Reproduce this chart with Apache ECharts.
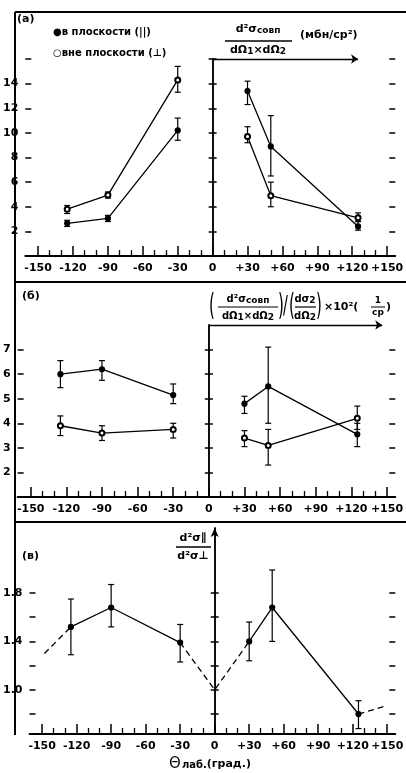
<!DOCTYPE html>
<html>
<head>
<meta charset="utf-8">
<script src="https://cdn.jsdelivr.net/npm/echarts@6/dist/echarts.min.js"></script>
<style>
html, body { margin: 0; padding: 0; background: #fff; }
#main { width: 406px; height: 773px; }
</style>
</head>
<body>
<div id="main"></div>
<script>
// angle axis (degrees)
var xMajor = [-150, -120, -90, -60, -30, 0, 30, 60, 90, 120, 150];
var xMinor = [-140, -130, -110, -100, -80, -70, -50, -40, -20, -10, 10, 20, 40, 50, 70, 80, 100, 110, 130, 140];
var xLabels = ['-150', '-120', '-90', '-60', '-30', '0', '+30', '+60', '+90', '+120', '+150'];
var angLeft = [-125, -90, -30];
var angRight = [30, 50, 125];

// panel (а)
var aTicks = [2, 4, 6, 8, 10, 12, 14, 16];
var aLabels = [2, 4, 6, 8, 10, 12, 14];
var aUpL = [3.8, 4.95, 14.3], aUpLLo = [3.45, 4.7, 13.3], aUpLHi = [4.1, 5.2, 15.4];
var aLowL = [2.65, 3.05, 10.2], aLowLLo = [2.4, 2.8, 9.4], aLowLHi = [2.9, 3.3, 11.2];
var aUpR = [13.4, 8.9, 2.4], aUpRLo = [12.3, 6.5, 2.1], aUpRHi = [14.2, 11.4, 2.8];
var aLowR = [9.7, 4.9, 3.1], aLowRLo = [9.2, 4.0, 2.8], aLowRHi = [10.5, 6.0, 3.5];

// panel (б)
var bTicks = [2, 3, 4, 5, 6, 7];
var bLabels = [2, 3, 4, 5, 6, 7];
var bUpL = [6.0, 6.2, 5.15], bUpLLo = [5.45, 5.75, 4.8], bUpLHi = [6.55, 6.55, 5.6];
var bLowL = [3.9, 3.6, 3.75], bLowLLo = [3.5, 3.3, 3.4], bLowLHi = [4.3, 3.9, 4.0];
var bUpR = [4.8, 5.5, 3.55], bUpRLo = [4.4, 4.0, 3.05], bUpRHi = [5.1, 7.1, 4.0];
var bLowR = [3.4, 3.1, 4.2], bLowRLo = [3.05, 2.3, 3.75], bLowRHi = [3.7, 3.75, 4.7];

// panel (в)
var vTicks = [0.8, 1.0, 1.2, 1.4, 1.6, 1.8];
var vLabels = [1.0, 1.4, 1.8];
var vL = [1.52, 1.68, 1.39], vLLo = [1.29, 1.52, 1.23], vLHi = [1.75, 1.87, 1.54];
var vR = [1.4, 1.68, 0.80], vRLo = [1.24, 1.40, 0.68], vRHi = [1.56, 1.99, 0.91];
var vEdgeX = [-148, 0, 150];
var vEdgeY = [1.30, 1.0, 0.87];

var FONT = 'DejaVu Sans';
var INK = '#000';

function pts(xs, ys) {
    return xs.map(function (x, i) { return [x, ys[i]]; });
}
function errPts(xs, lo, hi) {
    return xs.map(function (x, i) { return [x, lo[i], hi[i]]; });
}

var grids = [
    {left: 15, right: 0, top: 59, height: 197},
    {left: 15, right: 0, top: 325, height: 172},
    {left: 15, right: 0, top: 528, height: 206}
];
var yRange = [[0, 16], [1.0, 8], [0.635, 2.337]];
var yTicks = [aTicks, bTicks, vTicks];
var yLabs = [aLabels, bLabels, vLabels];

var xAxes = [], yAxes = [];
for (var g = 0; g < 3; g++) {
    xAxes.push({
        gridIndex: g, type: 'value', min: -161, max: 157, position: 'bottom',
        splitLine: {show: false},
        axisLine: {show: true, onZero: false, lineStyle: {color: INK, width: 2}},
        axisTick: {show: true, inside: true, length: 10, customValues: xMajor, lineStyle: {color: INK, width: 1.5}},
        axisLabel: {
            show: true, customValues: xMajor, margin: 7, color: INK,
            fontFamily: FONT, fontWeight: 'bold', fontSize: 11,
            formatter: function (v) {
                for (var k = 0; k < xMajor.length; k++) {
                    if (Math.abs(xMajor[k] - v) < 1e-6) return xLabels[k];
                }
                return '';
            }
        }
    });
    xAxes.push({
        gridIndex: g, type: 'value', min: -161, max: 157, position: 'bottom',
        splitLine: {show: false},
        axisLine: {show: false, onZero: false},
        axisTick: {show: true, inside: true, length: 6, customValues: xMinor, lineStyle: {color: INK, width: 1.3}},
        axisLabel: {show: false}
    });
    var isV = g === 2;
    yAxes.push({
        gridIndex: g, type: 'value', min: yRange[g][0], max: yRange[g][1], position: 'left',
        splitLine: {show: false},
        axisLine: {
            show: true, onZero: true, onZeroAxisIndex: 2 * g,
            symbol: isV ? ['none', 'arrow'] : 'none', symbolSize: [6, 9],
            lineStyle: {color: INK, width: 1.5}
        },
        axisTick: {show: true, length: 4, customValues: yTicks[g], lineStyle: {color: INK, width: 1.5}},
        axisLabel: {
            show: true, customValues: yLabs[g], margin: 7, color: INK,
            fontFamily: FONT, fontWeight: 'bold', fontSize: 11,
            formatter: isV ? function (v) { return v.toFixed(1); } : function (v) { return String(v); }
        }
    });
    yAxes.push({
        gridIndex: g, type: 'value', min: yRange[g][0], max: yRange[g][1], position: 'right',
        splitLine: {show: false},
        axisLine: {show: true, onZero: true, onZeroAxisIndex: 2 * g + 1, lineStyle: {color: INK, width: 1.5}},
        axisTick: {show: true, length: 4, customValues: yTicks[g], lineStyle: {color: INK, width: 1.5}},
        axisLabel: {show: false}
    });
    yAxes.push({
        gridIndex: g, type: 'value', min: yRange[g][0], max: yRange[g][1], position: 'left',
        splitLine: {show: false},
        axisLine: {show: false, onZero: false},
        axisTick: {show: true, inside: true, length: 6, customValues: yTicks[g], lineStyle: {color: INK, width: 1.5}},
        axisLabel: {show: false}
    });
    yAxes.push({
        gridIndex: g, type: 'value', min: yRange[g][0], max: yRange[g][1], position: 'right',
        splitLine: {show: false},
        axisLine: {show: false, onZero: false},
        axisTick: {show: true, inside: true, length: 6, customValues: yTicks[g], lineStyle: {color: INK, width: 1.5}},
        axisLabel: {show: false}
    });
}

function lineSeries(g, data, sym, dashed) {
    return {
        type: 'line', xAxisIndex: 2 * g, yAxisIndex: 4 * g, data: data,
        symbol: sym || 'none', symbolSize: 5, showSymbol: !!sym,
        lineStyle: {color: INK, width: 1.3, type: dashed ? [6, 4] : 'solid'},
        itemStyle: {color: INK, borderColor: INK, borderWidth: 1.2},
        z: 4, silent: true, animation: false
    };
}

function errSeries(g, data) {
    return {
        type: 'custom', xAxisIndex: 2 * g, yAxisIndex: 4 * g, data: data, z: 3, silent: true,
        animation: false,
        renderItem: function (params, api) {
            var p1 = api.coord([api.value(0), api.value(1)]);
            var p2 = api.coord([api.value(0), api.value(2)]);
            var w = 3;
            var st = {stroke: INK, lineWidth: 1.2};
            return {
                type: 'group', children: [
                    {type: 'line', shape: {x1: p1[0], y1: p1[1], x2: p2[0], y2: p2[1]}, style: st},
                    {type: 'line', shape: {x1: p1[0] - w, y1: p1[1], x2: p1[0] + w, y2: p1[1]}, style: st},
                    {type: 'line', shape: {x1: p2[0] - w, y1: p2[1], x2: p2[0] + w, y2: p2[1]}, style: st}
                ]
            };
        }
    };
}

function arrowLine(g, y, xEnd) {
    return {
        type: 'line', xAxisIndex: 2 * g, yAxisIndex: 4 * g, data: [], silent: true, animation: false,
        markLine: {
            silent: true, animation: false, symbol: ['none', 'arrow'], symbolSize: 7,
            label: {show: false},
            lineStyle: {color: INK, type: 'solid', width: 1.3},
            data: [[{coord: [0, y]}, {coord: [xEnd, y]}]]
        }
    };
}

var series = [
    // (а)
    lineSeries(0, pts(angLeft, aUpL), 'emptyCircle'),
    lineSeries(0, pts(angLeft, aLowL), 'circle'),
    lineSeries(0, pts(angRight, aUpR), 'circle'),
    lineSeries(0, pts(angRight, aLowR), 'emptyCircle'),
    errSeries(0, errPts(angLeft, aUpLLo, aUpLHi)),
    errSeries(0, errPts(angLeft, aLowLLo, aLowLHi)),
    errSeries(0, errPts(angRight, aUpRLo, aUpRHi)),
    errSeries(0, errPts(angRight, aLowRLo, aLowRHi)),
    arrowLine(0, 16, 125),
    // (б)
    lineSeries(1, pts(angLeft, bUpL), 'circle'),
    lineSeries(1, pts(angLeft, bLowL), 'emptyCircle'),
    lineSeries(1, pts(angRight, bUpR), 'circle'),
    lineSeries(1, pts(angRight, bLowR), 'emptyCircle'),
    errSeries(1, errPts(angLeft, bUpLLo, bUpLHi)),
    errSeries(1, errPts(angLeft, bLowLLo, bLowLHi)),
    errSeries(1, errPts(angRight, bUpRLo, bUpRHi)),
    errSeries(1, errPts(angRight, bLowRLo, bLowRHi)),
    arrowLine(1, 8, 146),
    // (в)
    lineSeries(2, pts(angLeft, vL), 'circle'),
    lineSeries(2, pts(angRight, vR), 'circle'),
    lineSeries(2, [[vEdgeX[0], vEdgeY[0]], [angLeft[0], vL[0]]], null, true),
    lineSeries(2, [[angLeft[2], vL[2]], [vEdgeX[1], vEdgeY[1]], [angRight[0], vR[0]]], null, true),
    lineSeries(2, [[angRight[2], vR[2]], [vEdgeX[2], vEdgeY[2]]], null, true),
    errSeries(2, errPts(angLeft, vLLo, vLHi)),
    errSeries(2, errPts(angRight, vRLo, vRHi))
];

function txt(x, y, text, font, align, rich, sx) {
    var st = {text: text, font: font, fill: INK, align: align || 'left', verticalAlign: 'middle'};
    if (rich) st.rich = rich;
    var el = {type: 'text', x: x, y: y, silent: true, style: st};
    if (sx) el.scaleX = sx;
    return el;
}
function seg(x1, y1, x2, y2, w) {
    return {type: 'line', silent: true, shape: {x1: x1, y1: y1, x2: x2, y2: y2}, style: {stroke: INK, lineWidth: w || 1.2}};
}

var B12 = 'bold 12px ' + FONT, B11 = 'bold 11px ' + FONT, B10 = 'bold 10px ' + FONT, B9 = 'bold 9px ' + FONT;
var subRich = {n: {font: B11}, s: {font: B9, padding: [4, 0, 0, 0]}};
var subRich10 = {n: {font: B10}, s: {font: B9, padding: [3, 0, 0, 0]}};
var PAREN = '30px ' + FONT;

var graphics = [
    // frame
    seg(15, 12, 15, 735, 2),
    seg(15, 12, 406, 12, 2),
    seg(15, 282, 406, 282, 2),
    seg(15, 522, 406, 522, 2),
    // panel labels
    txt(17, 19, '(а)', B11),
    txt(22, 296, '(б)', B11),
    txt(22, 556, '(в)', B11),
    // legend (а)
    txt(53, 32, '●в плоскости (||)', B10),
    txt(53, 53, '○вне плоскости (⊥)', B10),
    // (а) y title
    txt(258, 29, '{n|d²σ}{s|совп}', B11, 'center', subRich),
    seg(225, 41, 292, 41, 1.3),
    txt(258, 50, '{n|dΩ}{s|1}{n|×dΩ}{s|2}', B11, 'center', subRich),
    txt(300, 35, '(мбн/ср²)', B11),
    // (б) y title
    txt(209, 307, '(', PAREN, 'left', null, 0.5),
    txt(248, 299, '{n|d²σ}{s|совп}', B10, 'center', subRich10),
    seg(218, 307, 278, 307, 1.2),
    txt(248, 316, '{n|dΩ}{s|1}{n|×dΩ}{s|2}', B10, 'center', subRich10),
    txt(278, 307, ')', PAREN, 'left', null, 0.5),
    txt(283, 307, '/', '24px ' + FONT, 'left', null, 0.6),
    txt(289, 307, '(', PAREN, 'left', null, 0.5),
    txt(305, 299, '{n|dσ}{s|2}', B10, 'center', subRich10),
    seg(295, 307, 316, 307, 1.2),
    txt(305, 316, '{n|dΩ}{s|2}', B10, 'center', subRich10),
    txt(316, 307, ')', PAREN, 'left', null, 0.5),
    txt(324, 307, '×10²(', B11),
    txt(378, 301, '1', B9, 'center'),
    seg(371, 307, 385, 307, 1),
    txt(378, 313, 'ср', B9, 'center'),
    txt(386, 307, ')', B11),
    // (в) y title
    txt(193, 538, 'd²σ∥', B11, 'center'),
    seg(176, 547, 211, 547, 1.3),
    txt(193, 556, 'd²σ⊥', B11, 'center'),
    // x title
    txt(210, 764, '{t|Θ}{s|лаб.}{n|(град.)}', B12, 'center',
        {t: {font: '15px ' + FONT}, s: {font: B10, padding: [3, 0, 0, 1]}, n: {font: B11}})
];

var chart = echarts.init(document.getElementById('main'));
chart.setOption({
    animation: false,
    backgroundColor: '#fff',
    grid: grids,
    xAxis: xAxes,
    yAxis: yAxes,
    series: series,
    graphic: {elements: graphics}
});
</script>
</body>
</html>
